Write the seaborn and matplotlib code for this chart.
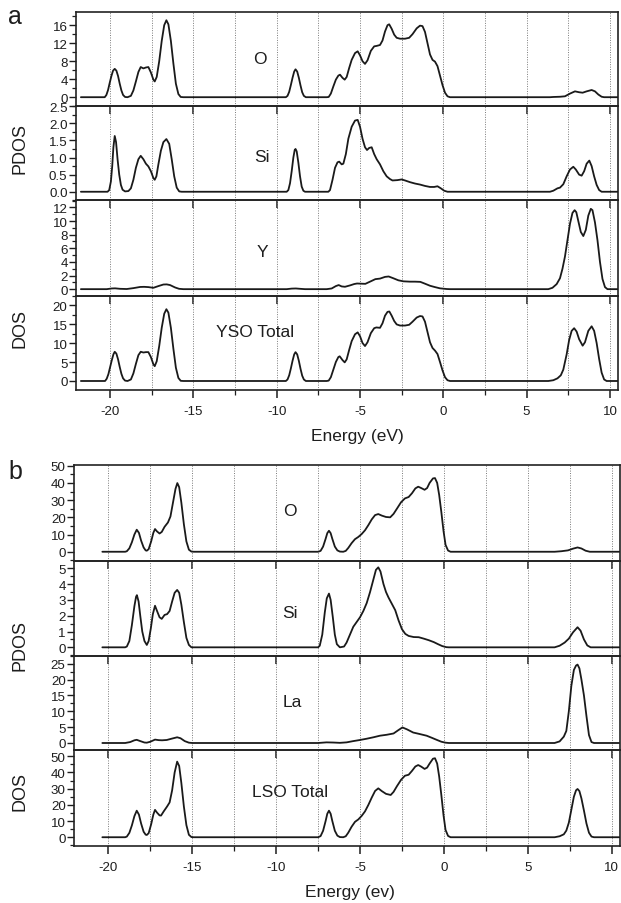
import matplotlib
matplotlib.use("Agg")
import matplotlib.pyplot as plt
import numpy as np
import pandas as pd
import seaborn as sns
from matplotlib.ticker import MultipleLocator, FormatStrFormatter

# ---------------- data: (energy eV, DOS) ----------------
O_YSO = [(-21.75, 0), (-20.32, 0), (-20.22, 0.5), (-20.12, 1.6), (-20.02, 3.2), (-19.92, 4.7), (-19.82, 5.9),
         (-19.72, 6.3), (-19.62, 5.9), (-19.52, 4.7), (-19.42, 3.0), (-19.32, 1.5), (-19.22, 0.5), (-19.1, 0.05),
         (-18.95, 0), (-18.75, 0.3), (-18.6, 1.5), (-18.45, 3.5), (-18.3, 5.6), (-18.16, 6.7), (-18.0, 6.4),
         (-17.85, 6.6), (-17.7, 6.7), (-17.55, 5.5), (-17.4, 3.9), (-17.32, 3.5), (-17.2, 4.5), (-17.05, 8.0),
         (-16.9, 12.5), (-16.75, 16.0), (-16.62, 17.1), (-16.5, 16.2), (-16.35, 12.5), (-16.2, 7.5), (-16.05, 3.0),
         (-15.9, 0.7), (-15.76, 0.05), (-15.6, 0),
         (-9.45, 0), (-9.35, 0.3), (-9.25, 1.2), (-9.15, 2.7), (-9.05, 4.3), (-8.95, 5.7), (-8.87, 6.2),
         (-8.77, 5.7), (-8.67, 4.3), (-8.57, 2.6), (-8.47, 1.1), (-8.37, 0.3), (-8.25, 0),
         (-7.0, 0), (-6.88, 0.05), (-6.75, 0.8), (-6.6, 2.4), (-6.45, 3.9), (-6.3, 4.8), (-6.2, 5.0), (-6.05, 4.3),
         (-5.92, 3.9), (-5.8, 4.5), (-5.65, 6.5), (-5.5, 8.3), (-5.3, 9.8), (-5.14, 10.2), (-5.0, 9.3),
         (-4.85, 8.0), (-4.7, 7.4), (-4.55, 8.2), (-4.35, 10.3), (-4.15, 11.3), (-4.0, 11.4), (-3.8, 11.6),
         (-3.65, 12.6), (-3.5, 14.6), (-3.35, 16.0), (-3.25, 16.2), (-3.1, 15.2), (-2.95, 13.9), (-2.8, 13.2),
         (-2.6, 13.0), (-2.3, 13.0), (-2.05, 13.2), (-1.85, 14.0), (-1.6, 15.3), (-1.4, 15.9), (-1.25, 15.8),
         (-1.1, 14.5), (-0.95, 12.0), (-0.8, 9.5), (-0.65, 8.3), (-0.5, 7.9), (-0.35, 6.9), (-0.2, 4.8),
         (-0.05, 2.7), (0.1, 1.0), (0.25, 0.2), (0.4, 0),
         (6.4, 0), (6.6, 0.05), (7.0, 0.1), (7.3, 0.2), (7.6, 0.8), (7.9, 1.3), (8.15, 1.1), (8.36, 1.0),
         (8.6, 1.3), (8.9, 1.6), (9.1, 1.3), (9.3, 0.6), (9.5, 0.1), (9.65, 0), (10.45, 0)]

SI_YSO = [(-21.75, 0), (-20.15, 0), (-20.05, 0.05), (-19.95, 0.3), (-19.87, 0.75), (-19.8, 1.3), (-19.72, 1.63),
          (-19.64, 1.45), (-19.55, 0.95), (-19.45, 0.5), (-19.35, 0.2), (-19.25, 0.06), (-19.1, 0.01),
          (-18.9, 0.02), (-18.75, 0.1), (-18.6, 0.35), (-18.45, 0.7), (-18.3, 0.95), (-18.16, 1.05),
          (-18.0, 0.95), (-17.85, 0.82), (-17.7, 0.74), (-17.55, 0.6), (-17.4, 0.4), (-17.32, 0.35),
          (-17.22, 0.45), (-17.1, 0.8), (-16.95, 1.2), (-16.8, 1.45), (-16.62, 1.54), (-16.45, 1.4),
          (-16.3, 0.95), (-16.15, 0.45), (-16.0, 0.12), (-15.85, 0.01), (-15.7, 0),
          (-9.4, 0), (-9.3, 0.05), (-9.2, 0.25), (-9.1, 0.6), (-9.0, 1.0), (-8.92, 1.22), (-8.87, 1.25),
          (-8.8, 1.18), (-8.7, 0.85), (-8.6, 0.45), (-8.5, 0.15), (-8.4, 0.03), (-8.3, 0),
          (-6.9, 0), (-6.8, 0.05), (-6.65, 0.35), (-6.5, 0.7), (-6.35, 0.86), (-6.25, 0.88), (-6.1, 0.8),
          (-6.0, 0.82), (-5.85, 1.1), (-5.7, 1.55), (-5.5, 1.9), (-5.3, 2.08), (-5.14, 2.1), (-5.0, 1.9),
          (-4.85, 1.55), (-4.7, 1.3), (-4.58, 1.22), (-4.45, 1.28), (-4.3, 1.3), (-4.15, 1.1), (-4.0, 0.95),
          (-3.8, 0.8), (-3.6, 0.6), (-3.4, 0.45), (-3.2, 0.37), (-3.05, 0.33), (-2.75, 0.34), (-2.5, 0.36),
          (-2.3, 0.33), (-2.0, 0.28), (-1.7, 0.24), (-1.4, 0.21), (-1.1, 0.17), (-0.8, 0.14), (-0.55, 0.14),
          (-0.35, 0.16), (-0.15, 0.1), (0.05, 0.03), (0.25, 0),
          (6.4, 0), (6.6, 0.03), (6.85, 0.1), (7.0, 0.12), (7.2, 0.22), (7.4, 0.45), (7.6, 0.65), (7.8, 0.73),
          (7.95, 0.65), (8.15, 0.5), (8.3, 0.47), (8.45, 0.6), (8.6, 0.82), (8.76, 0.91), (8.9, 0.75),
          (9.05, 0.45), (9.2, 0.2), (9.35, 0.05), (9.5, 0), (10.45, 0)]

Y_YSO = [(-21.75, 0), (-20.2, 0), (-19.9, 0.1), (-19.7, 0.12), (-19.4, 0.05), (-19.0, 0.02), (-18.6, 0.15),
         (-18.2, 0.32), (-17.96, 0.34), (-17.7, 0.3), (-17.4, 0.2), (-17.1, 0.45), (-16.8, 0.68), (-16.6, 0.7),
         (-16.4, 0.6), (-16.1, 0.25), (-15.86, 0.05), (-15.6, 0), (-9.4, 0), (-9.1, 0.08), (-8.85, 0.1),
         (-8.6, 0.05), (-8.3, 0), (-7.0, 0), (-6.7, 0.1), (-6.45, 0.45), (-6.28, 0.6), (-6.1, 0.4), (-5.9, 0.35),
         (-5.6, 0.55), (-5.35, 0.75), (-5.18, 0.83), (-4.9, 0.8), (-4.68, 0.78), (-4.4, 1.1), (-4.08, 1.47),
         (-3.8, 1.55), (-3.5, 1.8), (-3.28, 1.86), (-3.0, 1.6), (-2.7, 1.3), (-2.4, 1.15), (-2.0, 1.1),
         (-1.7, 1.1), (-1.38, 1.07), (-1.1, 0.8), (-0.8, 0.5), (-0.5, 0.3), (-0.2, 0.12), (0.2, 0.02), (0.4, 0),
         (6.3, 0), (6.55, 0.2), (6.8, 0.74), (7.0, 1.6), (7.15, 3.0), (7.3, 4.8), (7.45, 7.2), (7.6, 9.6),
         (7.75, 11.2), (7.88, 11.6), (7.98, 11.3), (8.1, 10.0), (8.25, 8.4), (8.4, 7.8), (8.55, 8.7),
         (8.7, 10.8), (8.85, 11.8), (8.95, 11.6), (9.1, 9.8), (9.25, 7.2), (9.4, 4.0), (9.55, 1.5), (9.7, 0.3),
         (9.85, 0), (10.45, 0)]

TOTAL_YSO = [(-21.75, 0), (-20.3, 0), (-20.2, 0.6), (-20.1, 1.8), (-20.0, 3.6), (-19.9, 5.4), (-19.8, 7.0),
             (-19.72, 7.7), (-19.62, 7.2), (-19.52, 5.7), (-19.42, 3.7), (-19.32, 1.9), (-19.22, 0.7),
             (-19.1, 0.1), (-18.95, 0), (-18.75, 0.4), (-18.6, 2.0), (-18.45, 4.5), (-18.3, 6.8), (-18.16, 7.7),
             (-18.0, 7.5), (-17.85, 7.6), (-17.7, 7.6), (-17.55, 6.3), (-17.4, 4.4), (-17.32, 3.9), (-17.2, 5.2),
             (-17.05, 9.2), (-16.9, 14.0), (-16.75, 17.7), (-16.62, 18.9), (-16.5, 18.0), (-16.35, 14.0),
             (-16.2, 8.5), (-16.05, 3.5), (-15.9, 0.8), (-15.76, 0.05), (-15.6, 0),
             (-9.45, 0), (-9.35, 0.4), (-9.25, 1.5), (-9.15, 3.3), (-9.05, 5.3), (-8.95, 7.0), (-8.87, 7.6),
             (-8.77, 7.0), (-8.67, 5.3), (-8.57, 3.2), (-8.47, 1.4), (-8.37, 0.4), (-8.25, 0),
             (-7.0, 0), (-6.88, 0.1), (-6.75, 1.0), (-6.6, 3.0), (-6.45, 5.0), (-6.3, 6.3), (-6.22, 6.5),
             (-6.05, 5.5), (-5.92, 4.9), (-5.8, 5.7), (-5.65, 8.2), (-5.5, 10.5), (-5.3, 12.3), (-5.14, 12.8),
             (-5.0, 11.8), (-4.85, 10.0), (-4.7, 9.2), (-4.55, 10.2), (-4.35, 12.6), (-4.15, 13.9), (-4.02, 14.1),
             (-3.8, 14.0), (-3.65, 15.2), (-3.5, 17.2), (-3.35, 18.2), (-3.24, 18.3), (-3.1, 17.2), (-2.95, 15.8),
             (-2.8, 14.9), (-2.6, 14.6), (-2.3, 14.6), (-2.05, 14.8), (-1.85, 15.6), (-1.6, 16.7), (-1.4, 17.1),
             (-1.25, 17.0), (-1.1, 15.6), (-0.95, 12.9), (-0.8, 10.2), (-0.65, 8.7), (-0.5, 8.0), (-0.35, 7.1),
             (-0.2, 5.0), (-0.05, 2.8), (0.1, 1.0), (0.25, 0.2), (0.4, 0),
             (6.3, 0), (6.6, 0.2), (6.85, 0.7), (7.05, 1.5), (7.2, 3.0), (7.4, 7.0), (7.55, 10.8), (7.7, 13.2),
             (7.85, 13.9), (8.0, 13.0), (8.15, 11.0), (8.36, 9.3), (8.5, 10.2), (8.7, 13.2), (8.9, 14.4),
             (9.05, 13.2), (9.2, 10.0), (9.35, 5.8), (9.5, 2.2), (9.65, 0.4), (9.8, 0), (10.45, 0)]

O_LSO = [(-20.36, 0), (-19.0, 0), (-18.9, 0.3), (-18.75, 2.0), (-18.6, 5.5), (-18.45, 10.0), (-18.31, 12.8),
         (-18.18, 11.0), (-18.05, 6.5), (-17.9, 2.5), (-17.78, 0.8), (-17.71, 0.6), (-17.6, 1.5), (-17.45, 6.0),
         (-17.32, 11.0), (-17.22, 13.2), (-17.1, 11.8), (-16.95, 10.6), (-16.82, 11.5), (-16.65, 14.5),
         (-16.45, 17.0), (-16.3, 20.5), (-16.15, 28.5), (-16.0, 36.5), (-15.89, 39.9), (-15.78, 37.5),
         (-15.65, 28.5), (-15.5, 16.0), (-15.35, 6.0), (-15.2, 1.2), (-15.05, 0.1), (-14.9, 0),
         (-7.5, 0), (-7.35, 0.5), (-7.2, 3.0), (-7.05, 7.5), (-6.95, 10.8), (-6.85, 12.2), (-6.75, 10.8),
         (-6.65, 7.5), (-6.5, 3.0), (-6.35, 0.8), (-6.2, 0.1), (-6.0, 0), (-5.85, 0.5), (-5.7, 2.2), (-5.5, 5.0),
         (-5.3, 7.3), (-5.1, 8.6), (-4.9, 10.3), (-4.7, 12.5), (-4.5, 15.5), (-4.3, 18.8), (-4.1, 21.3),
         (-3.91, 21.9), (-3.7, 21.0), (-3.45, 20.2), (-3.2, 20.0), (-3.0, 22.0), (-2.8, 25.0), (-2.55, 28.8),
         (-2.32, 31.0), (-2.1, 31.8), (-1.9, 34.0), (-1.7, 36.8), (-1.53, 37.8), (-1.35, 37.0), (-1.15, 36.0),
         (-1.0, 37.0), (-0.85, 40.0), (-0.65, 42.6), (-0.53, 42.8), (-0.4, 40.0), (-0.28, 33.0), (-0.15, 23.0),
         (-0.02, 12.0), (0.1, 4.0), (0.25, 0.7), (0.4, 0),
         (6.6, 0), (7.0, 0.3), (7.4, 0.8), (7.7, 1.8), (7.97, 2.5), (8.2, 1.9), (8.45, 0.6), (8.7, 0), (10.45, 0)]

SI_LSO = [(-20.36, 0), (-19.0, 0), (-18.9, 0.05), (-18.75, 0.4), (-18.6, 1.4), (-18.45, 2.6), (-18.35, 3.2),
          (-18.3, 3.3), (-18.2, 2.9), (-18.1, 2.0), (-17.98, 1.0), (-17.85, 0.4), (-17.71, 0.15), (-17.6, 0.4),
          (-17.47, 1.2), (-17.35, 2.1), (-17.22, 2.63), (-17.1, 2.3), (-16.95, 1.9), (-16.82, 1.8),
          (-16.65, 2.05), (-16.5, 2.1), (-16.35, 2.3), (-16.2, 2.9), (-16.05, 3.45), (-15.9, 3.63),
          (-15.78, 3.45), (-15.65, 2.7), (-15.5, 1.6), (-15.35, 0.6), (-15.2, 0.15), (-15.05, 0),
          (-7.5, 0), (-7.4, 0.1), (-7.25, 0.8), (-7.1, 2.2), (-6.98, 3.1), (-6.85, 3.4), (-6.75, 3.0),
          (-6.62, 1.9), (-6.5, 0.8), (-6.38, 0.2), (-6.2, 0), (-5.95, 0.05), (-5.8, 0.3), (-5.6, 0.8),
          (-5.4, 1.3), (-5.2, 1.6), (-5.0, 1.9), (-4.8, 2.3), (-4.6, 2.8), (-4.4, 3.5), (-4.2, 4.3), (-4.05, 4.9),
          (-3.91, 5.06), (-3.78, 4.8), (-3.6, 4.0), (-3.45, 3.5), (-3.3, 3.15), (-3.1, 2.75), (-2.9, 2.35),
          (-2.7, 1.7), (-2.5, 1.15), (-2.3, 0.85), (-2.1, 0.72), (-1.8, 0.65), (-1.5, 0.64), (-1.2, 0.55),
          (-0.9, 0.45), (-0.6, 0.33), (-0.35, 0.2), (-0.1, 0.08), (0.15, 0.01), (0.3, 0),
          (6.6, 0), (6.9, 0.1), (7.2, 0.3), (7.45, 0.55), (7.7, 0.95), (7.97, 1.27), (8.15, 1.05), (8.35, 0.5),
          (8.55, 0.12), (8.75, 0), (10.45, 0)]

LA_LSO = [(-20.36, 0), (-19.0, 0), (-18.7, 0.3), (-18.45, 0.85), (-18.31, 1.0), (-18.1, 0.6), (-17.85, 0.15),
          (-17.71, 0.1), (-17.5, 0.4), (-17.22, 1.07), (-17.0, 0.9), (-16.8, 0.85), (-16.52, 0.95), (-16.2, 1.4),
          (-15.9, 1.8), (-15.7, 1.5), (-15.45, 0.6), (-15.2, 0.1), (-15.0, 0),
          (-7.5, 0), (-7.0, 0.2), (-6.6, 0.15), (-6.2, 0.05), (-5.8, 0.2), (-5.4, 0.6), (-5.0, 0.95), (-4.6, 1.35),
          (-4.2, 1.8), (-3.81, 2.3), (-3.4, 2.6), (-3.0, 3.0), (-2.7, 4.1), (-2.47, 4.9), (-2.2, 4.3),
          (-1.83, 3.3), (-1.5, 2.9), (-1.03, 2.3), (-0.7, 1.6), (-0.43, 1.0), (-0.15, 0.4), (0.1, 0.1), (0.3, 0),
          (6.6, 0), (6.9, 0.5), (7.15, 2.0), (7.3, 3.8), (7.45, 10.0), (7.6, 18.0), (7.75, 23.0), (7.88, 24.4),
          (7.97, 24.7), (8.08, 23.5), (8.2, 20.0), (8.35, 15.0), (8.5, 8.5), (8.65, 2.5), (8.8, 0.3), (8.95, 0),
          (10.45, 0)]

TOTAL_LSO = [(-20.36, 0), (-19.0, 0), (-18.9, 0.4), (-18.75, 2.7), (-18.6, 7.3), (-18.45, 13.0), (-18.31, 16.4),
             (-18.18, 14.0), (-18.05, 8.5), (-17.9, 3.4), (-17.78, 1.6), (-17.71, 1.4), (-17.6, 2.5),
             (-17.45, 8.0), (-17.32, 14.0), (-17.22, 16.9), (-17.1, 15.2), (-16.95, 13.5), (-16.86, 13.4),
             (-16.7, 16.0), (-16.5, 19.0), (-16.35, 21.5), (-16.2, 29.0), (-16.05, 40.0), (-15.9, 46.7),
             (-15.78, 44.0), (-15.65, 33.5), (-15.5, 19.0), (-15.35, 7.5), (-15.2, 1.5), (-15.05, 0.1), (-14.9, 0),
             (-7.5, 0), (-7.35, 0.7), (-7.2, 4.0), (-7.05, 10.0), (-6.95, 14.5), (-6.85, 16.4), (-6.75, 14.5),
             (-6.65, 10.0), (-6.5, 4.0), (-6.35, 1.0), (-6.2, 0.1), (-6.0, 0), (-5.85, 0.6), (-5.7, 2.8),
             (-5.5, 6.5), (-5.3, 9.5), (-5.1, 11.0), (-4.9, 13.2), (-4.7, 16.0), (-4.5, 20.0), (-4.3, 24.5),
             (-4.1, 28.6), (-3.91, 30.2), (-3.7, 28.5), (-3.45, 26.8), (-3.17, 26.1), (-3.0, 28.0), (-2.8, 31.5),
             (-2.55, 35.5), (-2.32, 38.0), (-2.1, 38.6), (-1.9, 41.0), (-1.7, 43.7), (-1.53, 44.6), (-1.35, 43.6),
             (-1.15, 42.2), (-1.0, 43.0), (-0.85, 45.5), (-0.65, 48.5), (-0.53, 48.8), (-0.4, 45.5),
             (-0.28, 37.5), (-0.15, 26.0), (-0.02, 13.5), (0.1, 4.5), (0.25, 0.8), (0.4, 0),
             (6.6, 0), (6.9, 0.6), (7.15, 1.8), (7.3, 4.1), (7.45, 9.0), (7.6, 17.0), (7.75, 25.0), (7.88, 29.0),
             (7.97, 29.8), (8.08, 28.5), (8.2, 24.0), (8.35, 16.5), (8.5, 8.5), (8.65, 2.8), (8.8, 0.4),
             (8.95, 0), (10.45, 0)]

LABELS_A = ["O", "Si", "Y", "YSO Total"]
LABELS_B = ["O", "Si", "La", "LSO Total"]
X_TICKS = [-20, -15, -10, -5, 0, 5, 10]

# ---------------- style ----------------
sns.set_style("ticks")
plt.rcParams['font.family'] = ['Liberation Sans', 'DejaVu Sans']
plt.rcParams['axes.unicode_minus'] = False

W, H = 621, 904
fig = plt.figure(figsize=(W / 100, H / 100), dpi=100)
LINE = "#1a1a1a"
TXT = "#1e1e1e"


def box(l, r, top, bot):
    return [l / W, 1 - bot / H, (r - l) / W, (bot - top) / H]


def make_block(curves, labels, left, right, bounds, specs, text_pos, xlabel, xlab_xy, letter, letter_xy,
               pdos_y, dos_y):
    axes = []
    for i, (curve, lab) in enumerate(zip(curves, labels)):
        ax = fig.add_axes(box(left, right, bounds[i], bounds[i + 1]))
        ax.set_facecolor("none")
        df = pd.DataFrame(curve, columns=["energy", "dos"])
        sns.lineplot(data=df, x="energy", y="dos", ax=ax, color=LINE, lw=1.3,
                     estimator=None, sort=False, zorder=3)
        ylim, maj, mnr, fmt = specs[i]
        ax.set_xlim(-22.05, 10.5)
        ax.set_ylim(*ylim)
        ax.xaxis.set_major_locator(MultipleLocator(5))
        ax.xaxis.set_minor_locator(MultipleLocator(2.5))
        ax.yaxis.set_major_locator(MultipleLocator(maj))
        ax.yaxis.set_minor_locator(MultipleLocator(mnr))
        ax.yaxis.set_major_formatter(FormatStrFormatter(fmt))
        ax.grid(True, which="both", axis="x", ls=(0, (1, 1.5)), color="#7a7a7a", lw=0.7, zorder=1)
        for s in ax.spines.values():
            s.set_linewidth(1.2)
            s.set_color("#222222")
        ax.tick_params(axis="y", which="major", direction="out", length=4.8, width=1.0,
                       labelsize=9.6, pad=1.2, colors=TXT)
        ax.tick_params(axis="y", which="minor", direction="out", length=2.6, width=0.9, colors=TXT)
        last = (i == len(curves) - 1)
        ax.tick_params(axis="x", which="major", direction="out", length=5.6, width=1.1,
                       labelsize=9.6, pad=5, colors=TXT, labelbottom=last)
        ax.tick_params(axis="x", which="minor", direction="out", length=3.4 if last else 0,
                       width=0.9, colors=TXT)
        if last:
            ax.set_xticks(X_TICKS)
        ax.set_xlabel("")
        ax.set_ylabel("")
        ax.text(text_pos[i][0], text_pos[i][1], lab, transform=ax.transAxes, ha="center", va="center",
                fontsize=12.5, color=TXT)
        axes.append(ax)
    fig.text(xlab_xy[0] / W, 1 - xlab_xy[1] / H, xlabel, ha="center", va="center", fontsize=12.5,
             color=TXT)
    fig.text(letter_xy[0] / W, 1 - letter_xy[1] / H, letter, ha="center", va="center", fontsize=18,
             color=TXT)
    fig.text(20 / W, 1 - pdos_y / H, "PDOS", rotation=90, ha="center", va="center", fontsize=13,
             color=TXT)
    fig.text(20 / W, 1 - dos_y / H, "DOS", rotation=90, ha="center", va="center", fontsize=13,
             color=TXT)
    return axes


specs_a = [((-2, 19), 4, 2, "%d"), ((-0.25, 2.5), 0.5, 0.25, "%.1f"),
           ((-1.05, 13.05), 2, 1, "%d"), ((-2.45, 22.3), 5, 2.5, "%d")]
text_a = [(0.339, 0.51), (0.343, 0.47), (0.343, 0.47), (0.33, 0.63)]
make_block([O_YSO, SI_YSO, Y_YSO, TOTAL_YSO], LABELS_A, 75.9, 618.3,
           [12.7, 107.2, 201.3, 297.3, 391.3], specs_a, text_a,
           "Energy (eV)", (357, 437), "a", (15, 17), 149, 328)

specs_b = [((-5.2, 50.4), 10, 5, "%d"), ((-0.53, 5.48), 1, 0.5, "%d"),
           ((-2.3, 27.5), 5, 2.5, "%d"), ((-5.6, 53.7), 10, 5, "%d")]
text_b = [(0.396, 0.52), (0.396, 0.46), (0.40, 0.52), (0.396, 0.576)]
make_block([O_LSO, SI_LSO, LA_LSO, TOTAL_LSO], LABELS_B, 74, 620,
           [466, 561.7, 656.7, 751.3, 847.3], specs_b, text_b,
           "Energy (ev)", (350, 893), "b", (15, 472), 646, 792)

fig.savefig("out.png", dpi=100)
